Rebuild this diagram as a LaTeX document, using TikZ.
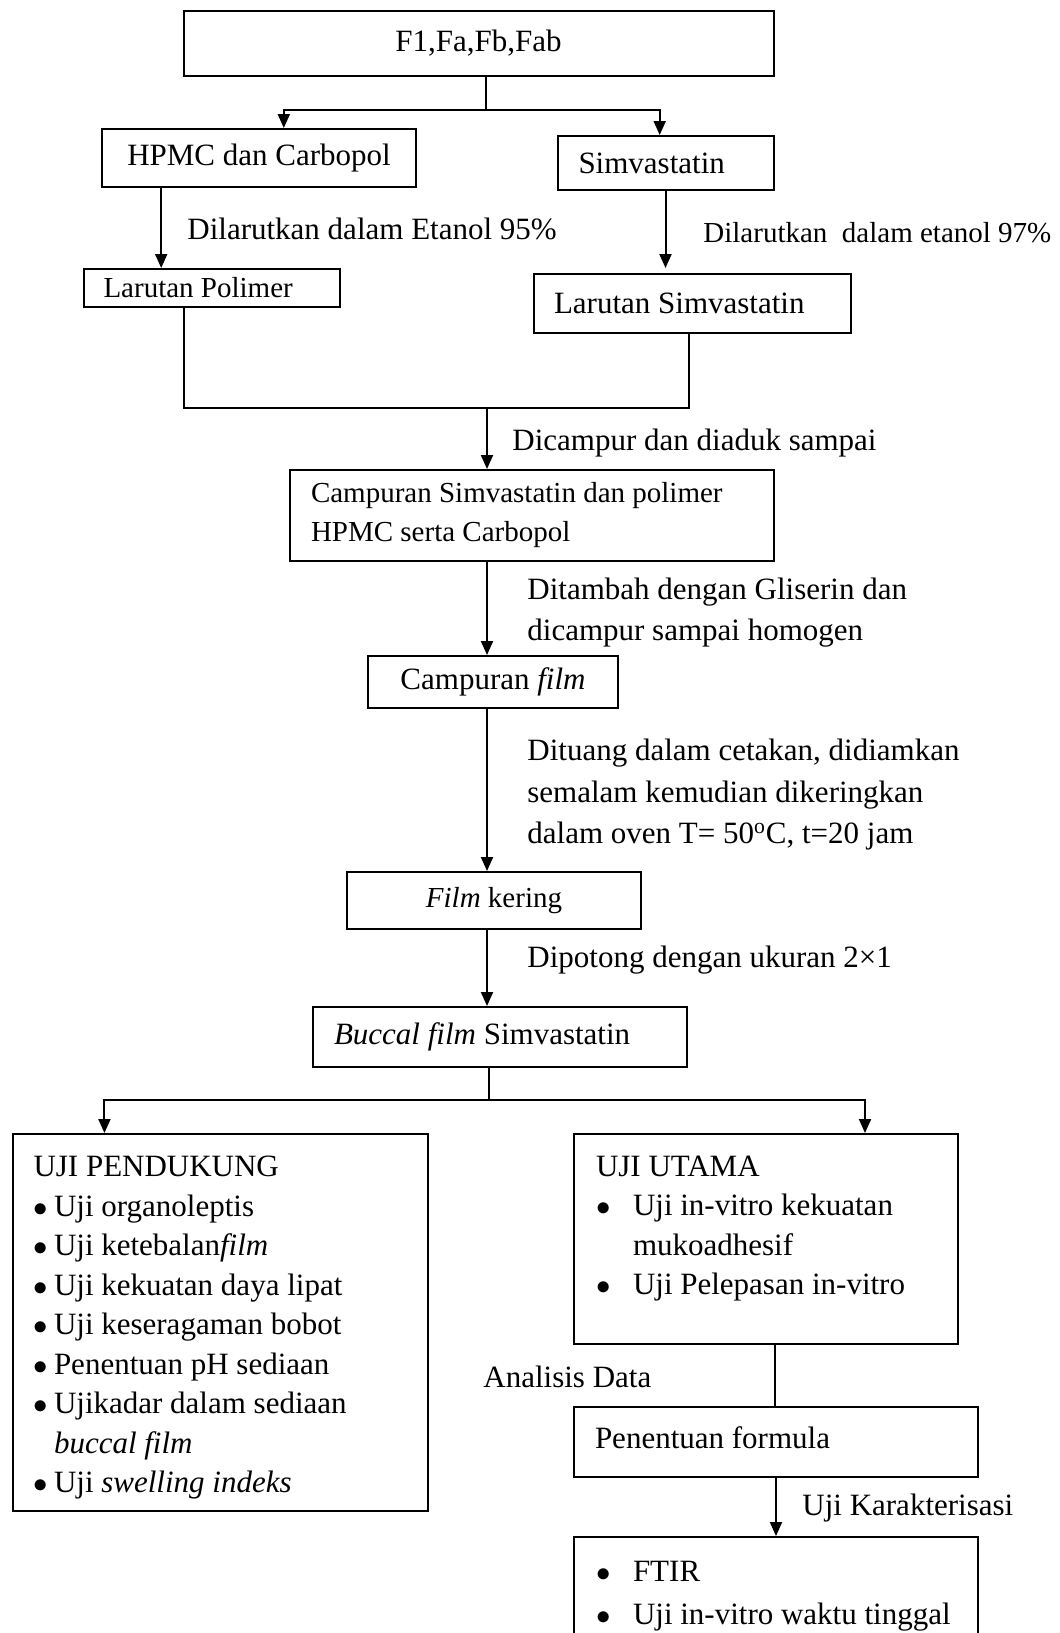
\documentclass[tikz,border=0pt]{standalone}
\usepackage{fontspec}
\setmainfont{Liberation Serif}
\usetikzlibrary{arrows.meta}
\newcommand{\besar}{\fontsize{15.5pt}{19.75pt}\selectfont}
\newcommand{\kecil}{\fontsize{14.5pt}{19.5pt}\selectfont}
\newcommand{\renggang}{\fontsize{15.5pt}{20.75pt}\selectfont}
\newcommand{\titik}{\makebox[10.25pt][l]{$\bullet$}}
\newcommand{\titikb}{\makebox[18.5pt][l]{$\bullet$}}
\tikzstyle{kotak} = [draw, line width=1pt, rectangle, inner sep=0pt, anchor=north west, font=\besar]
\tikzstyle{kiri} = [align=flush left, inner xsep=10.5pt]
\tikzstyle{keterangan} = [anchor=west, inner sep=0pt, align=flush left, font=\besar]
\tikzstyle{panah} = [line width=1pt, -{Triangle[length=7pt,width=6pt]}]
\tikzstyle{garis} = [line width=1pt]

\begin{document}
\begin{tikzpicture}[x=0.5pt, y=-0.5pt]
	\useasboundingbox (0,0) rectangle (1060,1633);
	\clip (0,0) rectangle (1060,1633);
	% kotak-kotak
	\node[kotak, minimum width=295pt, minimum height=32.5pt] (f1) at (182.5,10) {F1,Fa,Fb,Fab};
	\node[kotak, minimum width=157pt, minimum height=29pt] (hpmc) at (101,128) {HPMC dan Carbopol};
	\node[kotak, kiri, text width=87pt, minimum height=27pt] (simv) at (556.5,135) {Simvastatin};
	\node[kotak, kiri, font=\kecil, inner xsep=10pt, text width=108pt, minimum height=19pt] (larpol) at (82.5,268) {Larutan Polimer};
	\node[kotak, kiri, inner xsep=10pt, text width=138.5pt, minimum height=29.5pt] (larsim) at (533,273) {Larutan Simvastatin};
	\node[kotak, kiri, font=\kecil, text width=221pt, minimum height=45.5pt] (camp) at (289,469) {Campuran Simvastatin dan polimer\\HPMC serta Carbopol};
	\node[kotak, minimum width=125pt, minimum height=26pt] (campfilm) at (367,655) {Campuran \textit{film}};
	\node[kotak, font=\kecil, minimum width=147pt, minimum height=28.5pt] (kering) at (346,871) {\textit{Film} kering};
	\node[kotak, kiri, text width=166pt, minimum height=30pt] (buccal) at (312,1006) {\textit{Buccal film} Simvastatin};
	\node[kotak, inner xsep=10.5pt, inner ysep=11pt] (pendukung) at (11.5,1133) {
		\begin{minipage}[t][166.5pt][t]{186.75pt}
			UJI PENDUKUNG\\
			\titik Uji organoleptis\\
			\titik Uji ketebalan\textit{film}\\
			\titik Uji kekuatan daya lipat\\
			\titik Uji keseragaman bobot\\
			\titik Penentuan pH sediaan\\
			\titik Ujikadar dalam sediaan\\
			\hspace*{10.25pt}\textit{buccal film}\\
			\titik Uji \textit{swelling indeks}
		\end{minipage}};
	\node[kotak, inner xsep=11pt, inner ysep=11pt] (utama) at (573,1133) {
		\begin{minipage}[t][83pt][t]{170pt}
			UJI UTAMA\\
			\titikb Uji in-vitro kekuatan\\
			\hspace*{18.5pt}mukoadhesif\\
			\titikb Uji Pelepasan in-vitro
		\end{minipage}};
	\node[kotak, kiri, text width=181pt, text depth=4pt, minimum height=35pt] (formula) at (573,1406) {Penentuan formula};
	\node[kotak, inner xsep=11pt, inner ysep=12pt] (ftir) at (573,1536) {
		\begin{minipage}[t][60pt][t]{180pt}
			\titikb FTIR\\[1.75pt]
			\titikb Uji in-vitro waktu tinggal
		\end{minipage}};
	% keterangan
	\node[keterangan] (l95) at (187,229) {Dilarutkan dalam Etanol 95\%};
	\node[keterangan, font=\kecil] (l97) at (703,233) {Dilarutkan~ dalam etanol 97\%};
	\node[keterangan] (lcampur) at (512,443) {Dicampur dan diaduk sampai};
	\node[keterangan, font=\renggang] (lgliserin) at (527,612.5) {Ditambah dengan Gliserin dan\\dicampur sampai homogen};
	\node[keterangan, font=\renggang] (ldituang) at (527,795) {Dituang dalam cetakan, didiamkan\\semalam kemudian dikeringkan\\dalam oven T= 50\textsuperscript{o}C, t=20 jam};
	\node[keterangan] (lpotong) at (527,960) {Dipotong dengan ukuran 2×1};
	\node[keterangan] (lanalisis) at (483,1377) {Analisis Data};
	\node[keterangan] (lkarak) at (802,1508) {Uji Karakterisasi};
	% panah
	\coordinate (cab1) at (485.5,110);
	\draw[garis] (f1.south -| cab1) -- (cab1);
	\draw[panah] (cab1) -| ([xshift=12.4pt]hpmc.north);
	\draw[panah] (cab1) -| ([xshift=-2.9pt]simv.north);
	\draw[panah] ([xshift=-48.9pt]hpmc.south) -- ([xshift=-48.9pt]hpmc.south |- larpol.north);
	\draw[panah, shorten >=2.5pt] (simv.south) -- (simv.south |- larsim.north);
	\coordinate (gab) at (487,408);
	\draw[garis] ([xshift=-14pt]larpol.south) |- (gab) -| ([xshift=-2pt]larsim.south);
	\draw[panah] (gab) -- (gab |- camp.north);
	\draw[panah] (camp.south -| gab) -- (gab |- campfilm.north);
	\draw[panah] (campfilm.south -| gab) -- (gab |- kering.north);
	\draw[panah] (kering.south -| gab) -- (gab |- buccal.north);
	\coordinate (cab2) at (489,1100);
	\draw[garis] (buccal.south -| cab2) -- (cab2);
	\draw[panah] (cab2) -| ([xshift=-57.9pt]pendukung.north);
	\draw[panah] (cab2) -| ([xshift=49.5pt]utama.north);
	\draw[garis] ([xshift=4.5pt]utama.south) -- ([xshift=4.5pt]utama.south |- formula.north);
	\draw[panah] (formula.south) -- (formula.south |- ftir.north);
\end{tikzpicture}
\end{document}
